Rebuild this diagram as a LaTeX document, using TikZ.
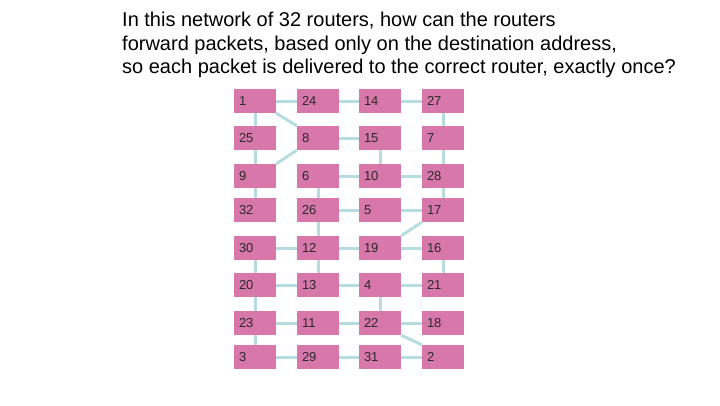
\documentclass[tikz,border=0pt]{standalone}
\usepackage{fontspec}
\setmainfont{Liberation Sans}
\usetikzlibrary{backgrounds}
\definecolor{boxpink}{HTML}{D877AA}
\definecolor{linkblue}{HTML}{B7DCE0}
\definecolor{numtext}{HTML}{2A2A2A}
\begin{document}
\begin{tikzpicture}[x=1pt,y=-1pt,
  router/.style={rectangle, fill=boxpink, minimum width=42pt, minimum height=24pt,
    text width=32pt, inner xsep=5pt, inner ysep=0pt, align=left,
    font=\fontsize{13}{14}\selectfont, text=numtext},
  link/.style={draw=linkblue, line width=3pt}]
\useasboundingbox (0,0) rectangle (720,405);
\node[anchor=base west, inner sep=0pt, align=left,
  font=\fontsize{20}{23.3}\selectfont] (title) at (122,73.3)
  {In this network of 32 routers, how can the routers\\
   forward packets, based only on the destination address,\\
   so each packet is delivered to the correct router, exactly once?};
% rows
\node[router] (r1)  at (255,101) {1};
\node[router] (r24) at (318,101) {24};
\node[router] (r14) at (380,101) {14};
\node[router] (r27) at (443,101) {27};
\node[router] (r25) at (255,138) {25};
\node[router] (r8)  at (318,138) {8};
\node[router] (r15) at (380,138) {15};
\node[router] (r7)  at (443,138) {7};
\node[router] (r9)  at (255,176) {9};
\node[router] (r6)  at (318,176) {6};
\node[router] (r10) at (380,176) {10};
\node[router] (r28) at (443,176) {28};
\node[router] (r32) at (255,210) {32};
\node[router] (r26) at (318,210) {26};
\node[router] (r5)  at (380,210) {5};
\node[router] (r17) at (443,210) {17};
\node[router] (r30) at (255,248) {30};
\node[router] (r12) at (318,248) {12};
\node[router] (r19) at (380,248) {19};
\node[router] (r16) at (443,248) {16};
\node[router] (r20) at (255,285) {20};
\node[router] (r13) at (318,285) {13};
\node[router] (r4)  at (380,285) {4};
\node[router] (r21) at (443,285) {21};
\node[router] (r23) at (255,323) {23};
\node[router] (r11) at (318,323) {11};
\node[router] (r22) at (380,323) {22};
\node[router] (r18) at (443,323) {18};
\node[router] (r3)  at (255,357) {3};
\node[router] (r29) at (318,357) {29};
\node[router] (r31) at (380,357) {31};
\node[router] (r2)  at (443,357) {2};
\begin{scope}[on background layer]
\draw[link] (r1) -- (r24);
\draw[link] (r24) -- (r14);
\draw[link] (r14) -- (r27);
\draw[link] (r1) -- (r25);
\draw[link] (r1.south east) -- (r8.north west);
\draw[link] (r27) -- (r7);
\draw[link] (r8) -- (r15);
\draw[link] (r25) -- (r9);
\draw[link] (r8.south west) -- (r9.north east);
\draw[link] (r15) -- (r10);
\draw[link] (r7) -- (r28);
\draw[link] (r6) -- (r10);
\draw[link] (r10) -- (r28);
\draw[link] (r9) -- (r32);
\draw[link] (r6) -- (r26);
\draw[link] (r28) -- (r17);
\draw[link] (r26) -- (r5);
\draw[link] (r5) -- (r17);
\draw[link] (r26) -- (r12);
\draw[link] (r17.south west) -- (r19.north east);
\draw[link] (r30) -- (r12);
\draw[link] (r12) -- (r19);
\draw[link] (r19) -- (r16);
\draw[link] (r30) -- (r20);
\draw[link] (r12) -- (r13);
\draw[link] (r16) -- (r21);
\draw[link] (r20) -- (r13);
\draw[link] (r13) -- (r4);
\draw[link] (r4) -- (r21);
\draw[link] (r20) -- (r23);
\draw[link] (r4) -- (r22);
\draw[link] (r23) -- (r11);
\draw[link] (r11) -- (r22);
\draw[link] (r22) -- (r18);
\draw[link] (r23) -- (r3);
\draw[link] (r22.south east) -- (r2.north west);
\draw[link] (r3) -- (r29);
\draw[link] (r29) -- (r31);
\draw[link] (r31) -- (r2);
\end{scope}
\end{tikzpicture}
\end{document}
